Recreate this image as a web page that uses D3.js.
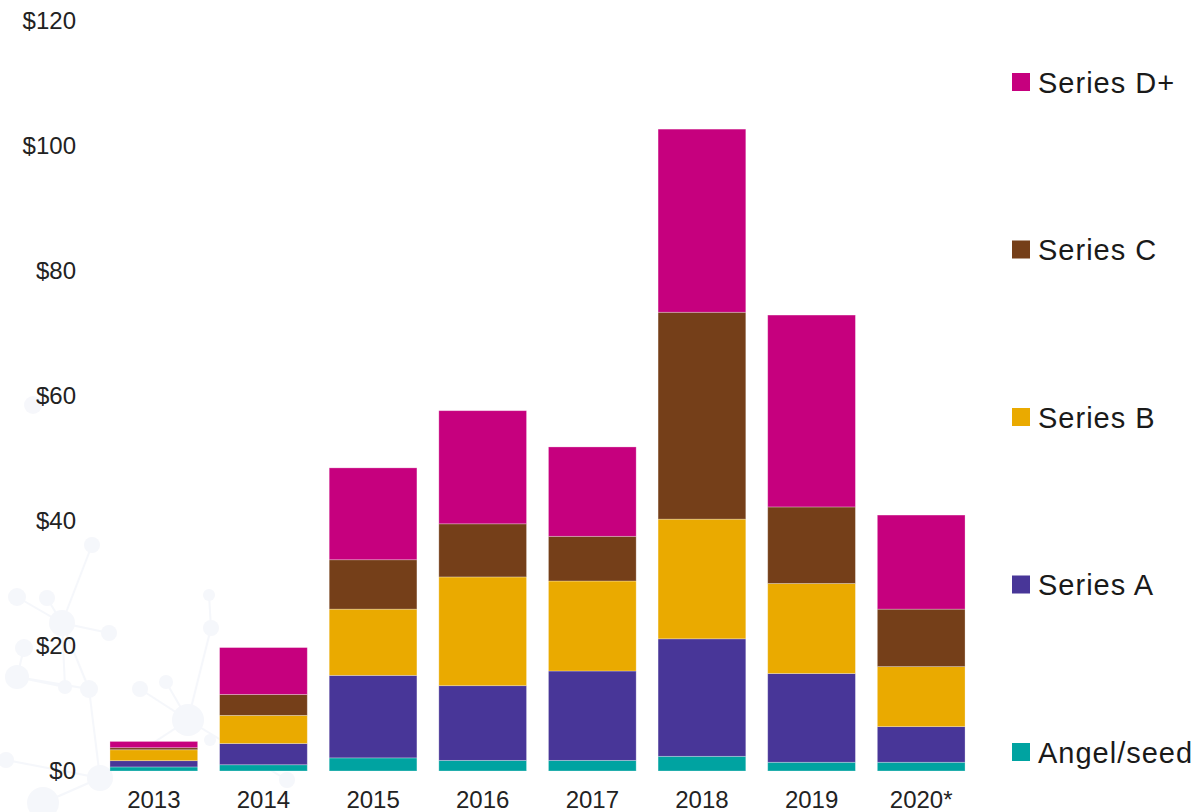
<!DOCTYPE html>
<html>
<head>
<meta charset="utf-8">
<script src="https://cdn.jsdelivr.net/npm/d3@7"></script>
<style>
  body { margin: 0; background: #fff; }
  svg { display: block; font-family: "Liberation Sans", Arial, sans-serif; }
</style>
</head>
<body>
<div id="chart"></div>
<script>
// data ($ billions, stacked by round)
var years = ["2013", "2014", "2015", "2016", "2017", "2018", "2019", "2020*"];
var seriesKeys = ["Angel/seed", "Series A", "Series B", "Series C", "Series D+"];
var angelSeed = [0.65, 1.0, 2.1, 1.7, 1.7, 2.35, 1.4, 1.4];
var seriesA   = [1.0, 3.4, 13.2, 11.95, 14.3, 18.8, 14.2, 5.7];
var seriesB   = [1.75, 4.5, 10.6, 17.4, 14.4, 19.15, 14.4, 9.6];
var seriesC   = [0.33, 3.35, 7.9, 8.5, 7.15, 33.1, 12.25, 9.2];
var seriesD   = [1.0, 7.5, 14.7, 18.1, 14.3, 29.3, 30.7, 15.05];
var yTicks = [0, 20, 40, 60, 80, 100, 120];
var colors = ["#00A3A1", "#483698", "#EAAA00", "#753F19", "#C6007E"];

var w = 1202, h = 812;

var table = years.map(function(y, i) {
    return {
        year: y,
        "Angel/seed": angelSeed[i],
        "Series A": seriesA[i],
        "Series B": seriesB[i],
        "Series C": seriesC[i],
        "Series D+": seriesD[i]
    };
});

var svg = d3.select("#chart").append("svg")
    .attr("width", w)
    .attr("height", h);

// faint network decoration in the background
var deco = svg.append("g").attr("class", "deco").attr("opacity", 0.55);
var decoNodes = [
    [33,405,9],[92,545,8],[17,597,9],[47,598,8],[62,623,13],[109,633,8],[24,648,9],
    [17,677,12],[65,687,7],[89,689,9],[140,689,8],[166,682,7],[188,720,16],[211,628,8],
    [209,595,6],[100,778,13],[43,803,16],[6,760,8],[287,780,8],[210,740,6]
];
var decoLinks = [[1,4],[2,4],[4,5],[4,8],[3,4],[6,7],[7,9],[9,4],[9,15],[15,16],[15,17],
    [10,12],[11,12],[12,13],[13,14],[12,18],[12,15],[8,7]];
deco.selectAll("line")
    .data(decoLinks)
    .enter().append("line")
    .attr("x1", function(d){ return decoNodes[d[0]][0]; })
    .attr("y1", function(d){ return decoNodes[d[0]][1]; })
    .attr("x2", function(d){ return decoNodes[d[1]][0]; })
    .attr("y2", function(d){ return decoNodes[d[1]][1]; })
    .attr("stroke", "#eef1f8")
    .attr("stroke-width", 2);
deco.selectAll("circle")
    .data(decoNodes)
    .enter().append("circle")
    .attr("cx", function(d){ return d[0]; })
    .attr("cy", function(d){ return d[1]; })
    .attr("r", function(d){ return d[2]; })
    .attr("fill", "#eef1f8");

var x = d3.scaleBand()
    .domain(years)
    .range([99, 976])
    .paddingInner(0.2)
    .paddingOuter(0.1);

var y = d3.scaleLinear()
    .domain([0, 120])
    .range([771, 21]);

var stack = d3.stack().keys(seriesKeys);
var stacked = stack(table);

var layers = svg.selectAll("g.layer")
    .data(stacked)
    .enter().append("g")
    .attr("class", "layer")
    .attr("fill", function(d, i){ return colors[i]; });

layers.selectAll("rect")
    .data(function(d){ return d; })
    .enter().append("rect")
    .attr("x", function(d){ return x(d.data.year); })
    .attr("y", function(d){ return y(d[1]); })
    .attr("width", x.bandwidth())
    .attr("height", function(d){ return y(d[0]) - y(d[1]); })
    .attr("stroke", "#ffffff")
    .attr("stroke-opacity", 0.35)
    .attr("stroke-width", 0.8);

// y axis
var yAxis = svg.append("g")
    .attr("transform", "translate(76,0)")
    .call(d3.axisLeft(y).tickValues(yTicks).tickSize(0).tickPadding(0)
        .tickFormat(function(d){ return "$" + d; }));
yAxis.select(".domain").remove();
yAxis.selectAll("text")
    .attr("font-size", 24)
    .attr("font-family", "'Liberation Sans', Arial, sans-serif")
    .attr("fill", "#222");

// x axis (labels sit at the very bottom edge, as in the original)
var xAxis = svg.append("g")
    .attr("transform", "translate(0,771)")
    .call(d3.axisBottom(x).tickSize(0).tickPadding(20));
xAxis.select(".domain").remove();
xAxis.selectAll("text")
    .attr("font-size", 24)
    .attr("font-family", "'Liberation Sans', Arial, sans-serif")
    .attr("fill", "#222");

// legend, top to bottom: D+ ... Angel/seed
var legendKeys = seriesKeys.slice().reverse();
var legend = svg.selectAll("g.legend")
    .data(legendKeys)
    .enter().append("g")
    .attr("class", "legend")
    .attr("transform", function(d, i){ return "translate(1012," + (82 + i * 167.5) + ")"; });

legend.append("rect")
    .attr("x", 0)
    .attr("y", -9)
    .attr("width", 18)
    .attr("height", 18)
    .attr("fill", function(d){ return colors[seriesKeys.indexOf(d)]; });

legend.append("text")
    .attr("x", 26)
    .attr("y", 10.5)
    .attr("font-size", 29)
    .attr("letter-spacing", 1)
    .attr("fill", "#1a1a1a")
    .text(function(d){ return d; });
</script>
</body>
</html>
